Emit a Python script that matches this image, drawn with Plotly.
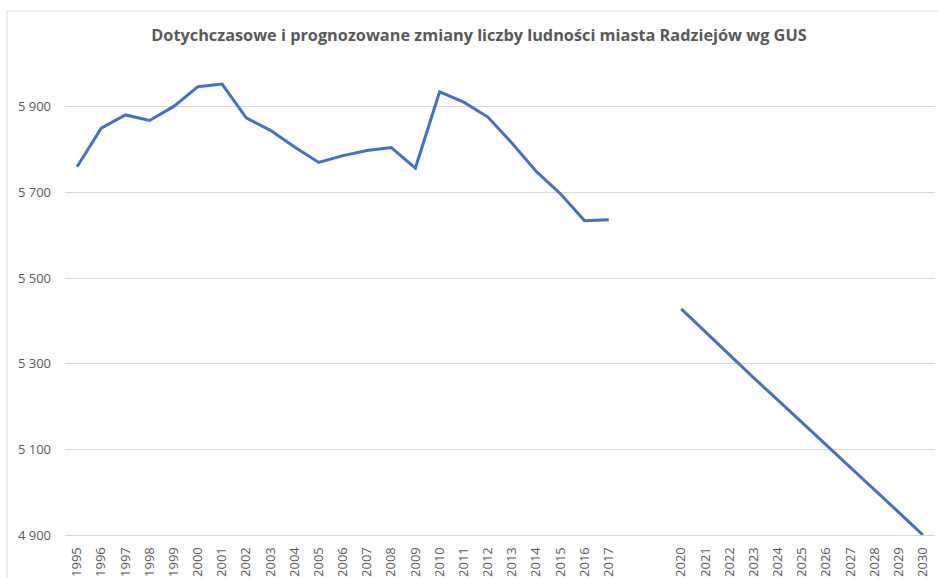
import plotly.graph_objects as go

title_text = "Dotychczasowe i prognozowane zmiany liczby ludności miasta Radziejów wg GUS"

years_hist = [1995, 1996, 1997, 1998, 1999, 2000, 2001, 2002, 2003, 2004, 2005, 2006,
              2007, 2008, 2009, 2010, 2011, 2012, 2013, 2014, 2015, 2016, 2017]
pop_hist = [5760, 5850, 5881, 5868, 5901, 5947, 5953, 5874, 5845, 5806, 5770, 5786,
            5798, 5805, 5757, 5935, 5911, 5876, 5815, 5749, 5697, 5634, 5636]

years_prog = [2020, 2021, 2022, 2023, 2024, 2025, 2026, 2027, 2028, 2029, 2030]
pop_prog = [5428, 5374, 5320, 5267, 5215, 5163, 5110, 5058, 5006, 4953, 4900]

tick_years = years_hist + years_prog
tick_labels = [str(y) for y in tick_years]
y_ticks = [4900, 5100, 5300, 5500, 5700, 5900]
y_tick_labels = ["4 900", "5 100", "5 300", "5 500", "5 700", "5 900"]

line_color = "#4472C4"
text_color = "#595959"
grid_color = "#D9D9D9"

fig = go.Figure()
fig.add_trace(go.Scatter(x=years_hist, y=pop_hist, mode="lines",
                         line=dict(color=line_color, width=3), showlegend=False))
fig.add_trace(go.Scatter(x=years_prog, y=pop_prog, mode="lines",
                         line=dict(color=line_color, width=3), showlegend=False))

font_family = "Open Sans, Liberation Sans, sans-serif"

fig.update_layout(
    width=938, height=578,
    margin=dict(l=65, r=3, t=64, b=42.5),
    paper_bgcolor="white", plot_bgcolor="white",
    title=dict(text="<b>" + title_text + "</b>", x=479 / 938, xanchor="center",
               xref="container", yref="container", y=1 - 35 / 578, yanchor="middle",
               font=dict(family=font_family, size=16.3, color=text_color)),
    xaxis=dict(range=[1994.5, 2030.5], tickmode="array", tickvals=tick_years,
               ticktext=tick_labels, tickangle=-90, showgrid=False, zeroline=False,
               showline=True, linecolor=grid_color, linewidth=1, ticks="",
               ticklabelstandoff=6, automargin=False,
               tickfont=dict(family=font_family, size=13, color=text_color)),
    yaxis=dict(range=[4900, 6000], tickmode="array", tickvals=y_ticks,
               ticktext=y_tick_labels, showgrid=True, gridcolor=grid_color, gridwidth=1,
               zeroline=False, showline=False, ticks="", ticklabelstandoff=13,
               automargin=False,
               tickfont=dict(family=font_family, size=13, color=text_color)),
    shapes=[dict(type="rect", xref="paper", yref="paper",
                 x0=(7 - 65) / 870, x1=2, y0=-1, y1=1 + (64 - 11) / 471.5,
                 line=dict(color=grid_color, width=1), fillcolor="rgba(0,0,0,0)",
                 layer="below")],
)

fig.write_html("out.html", config={"displayModeBar": False},
               post_script="document.body.style.margin='0';document.body.style.overflow='hidden';")
